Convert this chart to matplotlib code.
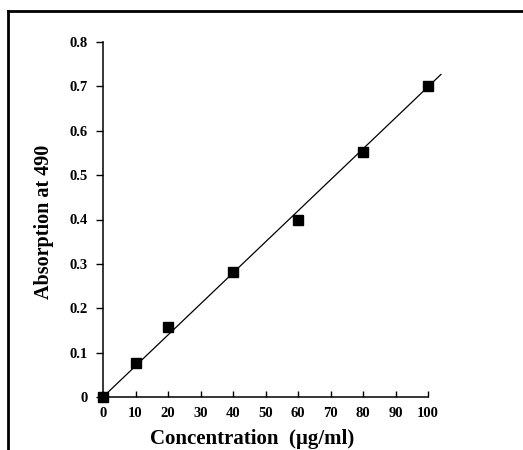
import matplotlib
matplotlib.use("Agg")
import matplotlib.pyplot as plt
from matplotlib.lines import Line2D

conc = [0, 10, 20, 40, 60, 80, 100]
absorb = [0.0, 0.077, 0.157, 0.282, 0.400, 0.553, 0.700]
fit_x = [0, 104]
fit_y = [0.0, 0.727]
xticks = [0, 10, 20, 30, 40, 50, 60, 70, 80, 90, 100]
yticks = [0, 0.1, 0.2, 0.3, 0.4, 0.5, 0.6, 0.7, 0.8]
ytick_labels = ["0", "0.1", "0.2", "0.3", "0.4", "0.5", "0.6", "0.7", "0.8"]

plt.rcParams['font.family'] = ['Liberation Serif', 'DejaVu Serif']

fig = plt.figure(figsize=(5.23, 4.5), dpi=100)
ax = fig.add_axes([103/523, 53/450, 325/523, 355/450])

ax.plot(fit_x, fit_y, color='black', lw=0.9, clip_on=False, zorder=2)
ax.plot(conc, absorb, linestyle='none', marker='s', markersize=7,
        color='black', clip_on=False, zorder=3)

ax.set_xlim(0, 100)
ax.set_ylim(0, 0.8)
for s in ['top', 'right']:
    ax.spines[s].set_visible(False)
for s in ['left', 'bottom']:
    ax.spines[s].set_linewidth(1.1)

ax.set_xticks(xticks)
ax.set_xticklabels([str(v) for v in xticks], fontsize=10.5, fontweight='bold')
ax.set_yticks(yticks)
ax.set_yticklabels(ytick_labels, fontsize=10.5, fontweight='bold')
ax.tick_params(axis='x', direction='in', length=4, width=1, pad=7)
ax.tick_params(axis='y', direction='out', length=5, width=1, pad=6)

ax.set_xlabel("Concentration  (\u00b5g/ml)", fontsize=15, fontweight='bold')
ax.xaxis.set_label_coords((252 - 103) / 325, -(439 - 397) / 355)
ax.xaxis.label.set_va('center')
ax.set_ylabel("Absorption at 490", fontsize=14.5, fontweight='bold')
ax.yaxis.set_label_coords(-(103 - 44) / 325, (397 - 222) / 355)
ax.yaxis.label.set_va('center')

# page frame (top and left edges)
fig.add_artist(Line2D([8/523, 1.0], [1 - 11/450, 1 - 11/450], color='black',
                      lw=2, transform=fig.transFigure))
fig.add_artist(Line2D([8/523, 8/523], [0.0, 1 - 11/450], color='black',
                      lw=2, transform=fig.transFigure))

fig.savefig("out.png", dpi=100)
